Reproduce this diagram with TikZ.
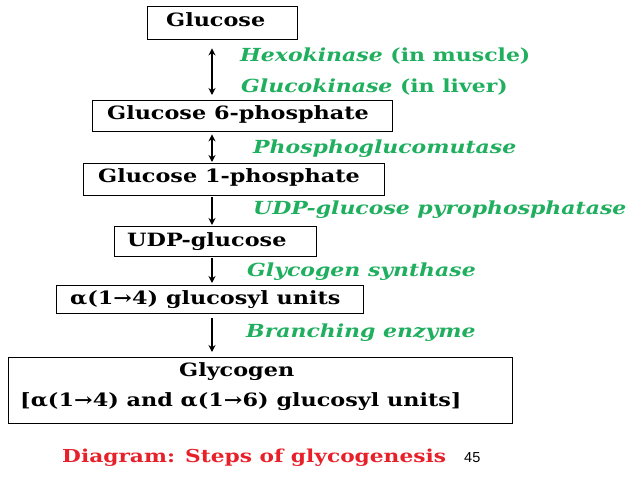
\documentclass[tikz,border=0pt]{standalone}
\usepackage{fontspec}
\setmainfont{DejaVu Serif}[FakeStretch=1.22]
\newfontfamily\numfont{Liberation Sans}
\usetikzlibrary{arrows.meta,calc}
\definecolor{enzgreen}{RGB}{31,175,95}
\definecolor{capred}{RGB}{232,32,42}
\tikzset{
  box/.style={draw, line width=1.4pt, anchor=north west, inner sep=0pt},
  lbl/.style={anchor=base west, inner sep=0pt, font=\bfseries\fontsize{18.3}{21}\selectfont},
  enz/.style={anchor=base west, inner sep=0pt, text=enzgreen, font=\bfseries\fontsize{18}{21}\selectfont},
  arr/.style={line width=1.4pt, -{Stealth[length=7pt,width=7pt]}},
  darr/.style={line width=1.4pt, {Stealth[length=7pt,width=7pt]}-{Stealth[length=7pt,width=7pt]}},
}
\begin{document}
\begin{tikzpicture}[x=1pt,y=-1pt]
\useasboundingbox[fill=white] (0,0) rectangle (638,479);
% boxes
\node[box, minimum width=150pt, minimum height=33pt] (b1) at (147,6) {};
\node[box, minimum width=300pt, minimum height=31pt] (b2) at (92,100) {};
\node[box, minimum width=301pt, minimum height=32pt] (b3) at (83,163) {};
\node[box, minimum width=202pt, minimum height=30pt] (b4) at (114,226) {};
\node[box, minimum width=307pt, minimum height=28pt] (b5) at (56,285) {};
\node[box, minimum width=504pt, minimum height=66pt] (b6) at (8,357) {};
% box texts
\node[lbl] (t1) at (166,27) {Glucose};
\node[lbl] (t2) at (107,119) {Glucose 6-phosphate};
\node[lbl] (t3) at (98,182) {Glucose 1-phosphate};
\node[lbl] (t4) at (127,246) {UDP-glucose};
\node[lbl] (t5) at (70,304) {α(1→4) glucosyl units};
\node[lbl] (t6) at (179,376) {Glycogen};
\node[lbl] (t7) at (20,406) {[α(1→4) and α(1→6) glucosyl units]};
% enzyme labels
\node[enz] (e1) at (240,61) {\itshape Hexokinase\upshape\ (in muscle)};
\node[enz] (e2) at (241,92) {\itshape Glucokinase\upshape\ (in liver)};
\node[enz] (e3) at (253,153) {\itshape Phosphoglucomutase};
\node[enz] (e4) at (253,214) {\itshape UDP-glucose pyrophosphatase};
\node[enz] (e5) at (247,276) {\itshape Glycogen synthase};
\node[enz] (e6) at (246,337) {\itshape Branching enzyme};
% caption
\node[anchor=base west, inner sep=0pt, text=capred, font=\bfseries\fontsize{17.8}{20}\selectfont] (cap) at (62,462) {Diagram: Steps of glycogenesis};
\node[anchor=base west, inner sep=0pt, font=\numfont\fontsize{14.5}{16}\selectfont] (pg) at (464,462) {45};
% arrows
\coordinate (ax) at (212,0);
\draw[darr] ($(b1.south -| ax)+(0,8)$) -- ($(b2.north -| ax)+(0,-5)$);
\draw[darr] ($(b2.south -| ax)+(0,2)$) -- ($(b3.north -| ax)+(0,-1)$);
\draw[arr] ($(b3.south -| ax)+(0,1)$) -- ($(b4.north -| ax)+(0,-1)$);
\draw[arr] ($(b4.south -| ax)+(0,1)$) -- ($(b5.north -| ax)+(0,-2)$);
\draw[arr] ($(b5.south -| ax)+(0,4)$) -- ($(b6.north -| ax)+(0,-5)$);
\end{tikzpicture}
\end{document}
